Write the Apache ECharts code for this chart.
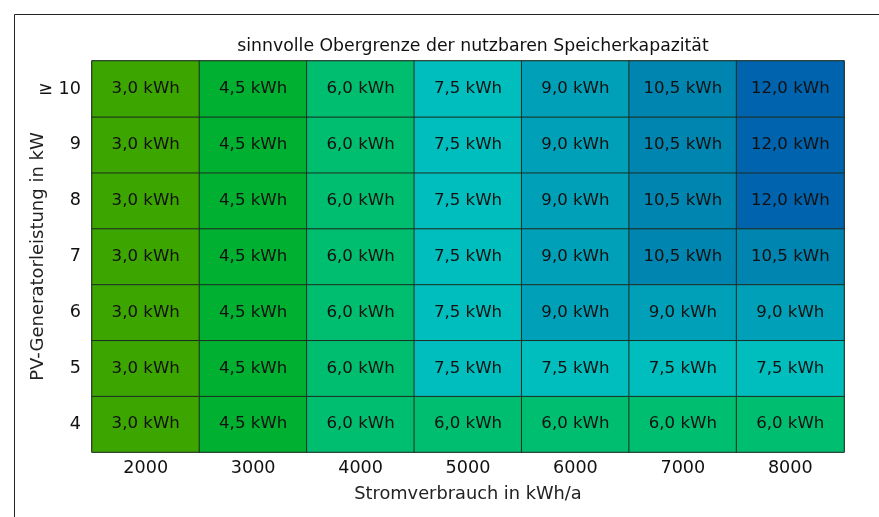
<!DOCTYPE html>
<html>
<head>
<meta charset="utf-8">
<script src="https://cdn.jsdelivr.net/npm/echarts@6/dist/echarts.min.js"></script>
<style>
  html, body { margin: 0; padding: 0; background: #fff; }
  #main { width: 879px; height: 517px; }
</style>
</head>
<body>
<div id="main"></div>
<script>
// Stromverbrauch (x) und PV-Leistung (y)
var verbrauch = ['2000', '3000', '4000', '5000', '6000', '7000', '8000'];
var pvLeistung = ['4', '5', '6', '7', '8', '9', '\u2265 10'];
// Speicherkapazitaet je Zeile, von 4 kW bis >= 10 kW
var zeile4  = [3.0, 4.5, 6.0, 6.0, 6.0, 6.0, 6.0];
var zeile5  = [3.0, 4.5, 6.0, 7.5, 7.5, 7.5, 7.5];
var zeile6  = [3.0, 4.5, 6.0, 7.5, 9.0, 9.0, 9.0];
var zeile7  = [3.0, 4.5, 6.0, 7.5, 9.0, 10.5, 10.5];
var zeile8  = [3.0, 4.5, 6.0, 7.5, 9.0, 10.5, 12.0];
var zeile9  = [3.0, 4.5, 6.0, 7.5, 9.0, 10.5, 12.0];
var zeile10 = [3.0, 4.5, 6.0, 7.5, 9.0, 10.5, 12.0];
var stufen = [3.0, 4.5, 6.0, 7.5, 9.0, 10.5, 12.0];
var farben = ['#3ca500', '#00b030', '#00be70', '#00bebe', '#00a0b8', '#0084b0', '#0063ae'];

var zeilen = [zeile4, zeile5, zeile6, zeile7, zeile8, zeile9, zeile10];
var daten = [];
zeilen.forEach(function (row, yi) {
  row.forEach(function (v, xi) { daten.push([xi, yi, v]); });
});

var schrift = 'DejaVu Sans';
var myChart = echarts.init(document.getElementById('main'));
var option = {
  animation: false,
  textStyle: { fontFamily: schrift },
  title: {
    text: 'sinnvolle Obergrenze der nutzbaren Speicherkapazität',
    left: 468, top: 33, textAlign: 'center',
    textStyle: { fontSize: 17.3, fontWeight: 'normal', color: '#111', fontFamily: schrift }
  },
  graphic: [{
    type: 'rect', left: 12, top: 12,
    shape: { width: 865, height: 520 },
    style: { fill: 'none', stroke: '#222', lineWidth: 1 },
    z: -1
  }],
  grid: {
    left: 92, right: 35, top: 61, bottom: 65,
    show: true, borderColor: '#222', borderWidth: 1.2, backgroundColor: 'transparent'
  },
  xAxis: {
    type: 'category', data: verbrauch,
    name: 'Stromverbrauch in kWh/a', nameLocation: 'middle', nameGap: 33,
    nameMoveOverlap: false,
    nameTextStyle: { fontSize: 17.8, color: '#222' },
    axisLine: { show: false }, axisTick: { show: false }, splitLine: { show: false },
    axisLabel: { fontSize: 17.6, color: '#111', margin: 7 }
  },
  yAxis: {
    type: 'category', data: pvLeistung,
    name: 'PV-Generatorleistung in kW', nameLocation: 'middle', nameGap: 45,
    nameMoveOverlap: false,
    nameTextStyle: { fontSize: 18, color: '#222' },
    axisLine: { show: false }, axisTick: { show: false }, splitLine: { show: false },
    axisLabel: { fontSize: 17.6, color: '#111', margin: 11 }
  },
  visualMap: {
    type: 'piecewise', show: false, dimension: 2,
    pieces: stufen.map(function (s, i) { return { value: s, color: farben[i] }; })
  },
  series: [{
    type: 'heatmap',
    data: daten,
    itemStyle: { borderColor: '#1c2e22', borderWidth: 1 },
    label: {
      show: true, fontSize: 16.6, color: '#111', fontFamily: schrift,
      formatter: function (p) { return p.value[2].toFixed(1).replace('.', ',') + ' kWh'; }
    },
    emphasis: { disabled: true }
  }]
};
myChart.setOption(option);
</script>
</body>
</html>
